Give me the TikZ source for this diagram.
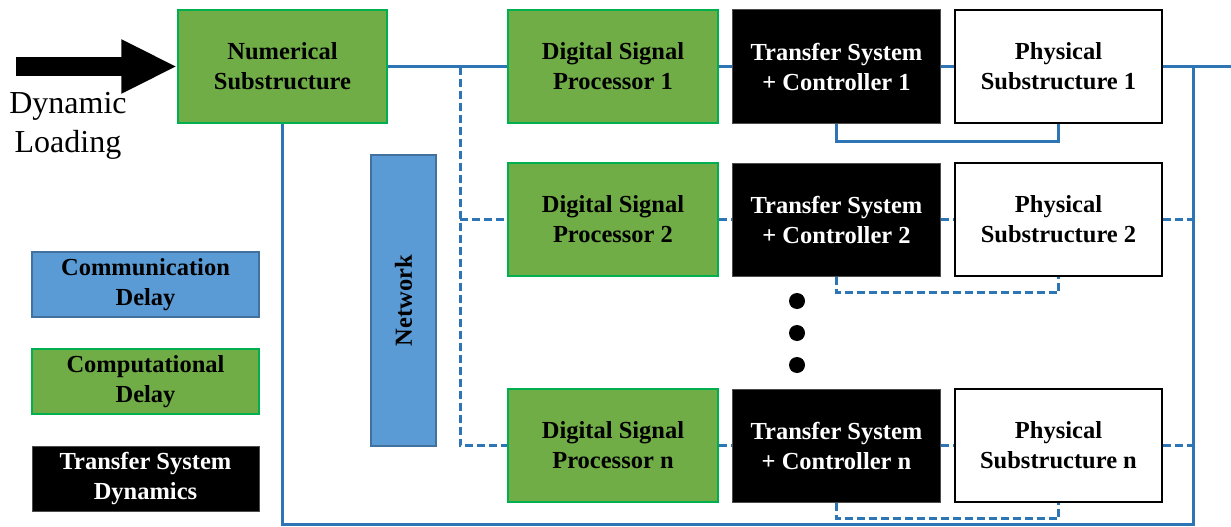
\documentclass[tikz,border=0pt]{standalone}
\usepackage{fontspec}
\setmainfont{Liberation Serif}
\usetikzlibrary{arrows.meta}
\definecolor{gfill}{HTML}{70AD47}
\definecolor{gline}{HTML}{00B050}
\definecolor{bfill}{HTML}{5B9BD5}
\definecolor{bline}{HTML}{41719C}
\definecolor{wire}{HTML}{2E75B6}
\tikzset{
  box/.style={rectangle, inner sep=0pt, align=center, font=\fontsize{24.5}{30}\selectfont\bfseries},
  greenbox/.style={box, fill=gfill, draw=gline, line width=1.5pt},
  blackbox/.style={box, fill=black, draw=black!70, line width=1pt, text=white},
  whitebox/.style={box, fill=white, draw=black, line width=1.5pt},
  bluebox/.style={box, fill=bfill, draw=bline, line width=1.5pt},
  bus/.style={draw=wire, line width=3pt},
  dbus/.style={draw=wire, line width=3pt, dash pattern=on 8pt off 4pt},
  rowbox/.style={minimum height=113pt},
}
\begin{document}
\begin{tikzpicture}[x=1pt,y=-1pt]
\useasboundingbox (0,0) rectangle (1231,527);
% main nodes
\node[greenbox, minimum width=209pt, minimum height=113pt] (num) at (282.5,66.5) {Numerical\\Substructure};
\node[greenbox, rowbox, minimum width=210pt] (dsp1) at (613,66.5) {Digital Signal\\Processor 1};
\node[greenbox, rowbox, minimum width=210pt] (dsp2) at (613,219.5) {Digital Signal\\Processor 2};
\node[greenbox, rowbox, minimum width=210pt] (dspn) at (613,445.5) {Digital Signal\\Processor n};
\node[blackbox, rowbox, minimum width=208pt] (ts1) at (836.5,66.5) {Transfer System\\+ Controller 1};
\node[blackbox, rowbox, minimum width=208pt] (ts2) at (836.5,219.5) {Transfer System\\+ Controller 2};
\node[blackbox, rowbox, minimum width=208pt] (tsn) at (836.5,445.5) {Transfer System\\+ Controller n};
\node[whitebox, rowbox, minimum width=207pt] (ph1) at (1058.5,66.5) {Physical\\Substructure 1};
\node[whitebox, rowbox, minimum width=207pt] (ph2) at (1058.5,219.5) {Physical\\Substructure 2};
\node[whitebox, rowbox, minimum width=207pt] (phn) at (1058.5,445.5) {Physical\\Substructure n};
\node[bluebox, rotate=90, minimum width=291pt, minimum height=65pt] (net) at (403.5,300.5) {Network};
% legend
\node[bluebox, minimum width=227pt, minimum height=65pt] (lg1) at (145.5,284.5) {Communication\\Delay};
\node[greenbox, minimum width=227pt, minimum height=65pt] (lg2) at (145.5,381.5) {Computational\\Delay};
\node[blackbox, minimum width=227pt, minimum height=65pt] (lg3) at (145.5,478.5) {Transfer System\\Dynamics};
% input
\coordinate (ain) at (16,66.5);
\draw[line width=18pt, -{Triangle[length=56pt,width=50pt]}] (ain) -- (num.west);
\node[align=center, font=\fontsize{32}{39}\selectfont] (dl) at (68,126) {Dynamic\\Loading};
% buses
\coordinate (R) at (1193,66.5);
\coordinate (Rend) at (1231,66.5);
\coordinate (Rb) at (1193,524);
\coordinate (Lb) at (num.south |- Rb);
\coordinate (T) at (460,66.5);
\draw[bus] (num.east) -- (dsp1.west);
\draw[bus] (dsp1.east) -- (ts1.west);
\draw[bus] (ts1.east) -- (ph1.west);
\draw[bus] (ph1.east) -- (Rend);
\draw[bus] (num.south) -- (Lb) -- (Rb) -- (R);
\draw[bus] (ts1.south) -- ++(0,18) -| (ph1.south);
% dashed
\draw[dbus] (T) -- (T |- dspn.west) -- (dspn.west);
\draw[dbus] (T |- dsp2.west) -- (dsp2.west);
\draw[dbus] (dsp2.east) -- (ts2.west);
\draw[dbus] (ts2.east) -- (ph2.west);
\draw[dbus] (ph2.east) -- (ph2.east -| R);
\draw[dbus] (dspn.east) -- (tsn.west);
\draw[dbus] (tsn.east) -- (phn.west);
\draw[dbus] (phn.east) -- (phn.east -| R);
\draw[dbus] (ts2.south) -- ++(0,16) -| (ph2.south);
\draw[dbus] (tsn.south) -- ++(0,16) -| (phn.south);
% dots
\fill (797,301) circle (8);
\fill (797,333) circle (8);
\fill (797,365) circle (8);
\end{tikzpicture}
\end{document}
